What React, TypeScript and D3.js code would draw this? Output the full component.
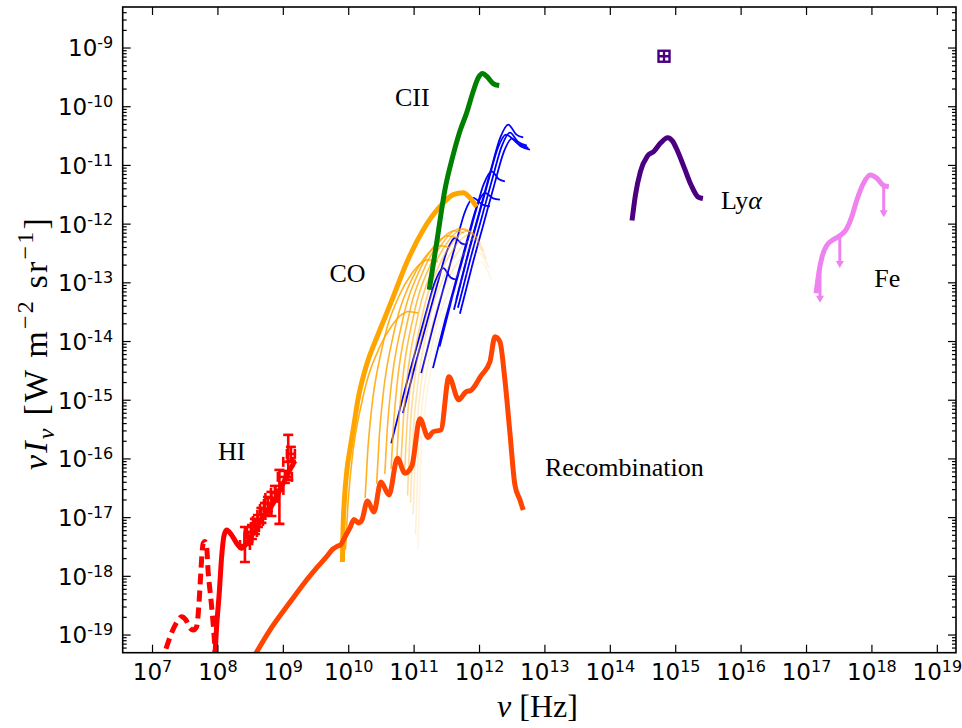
import React, { useEffect } from 'react';
import * as d3 from 'd3';

type P = [number, number]; // [log10 nu (Hz), log10 nuI_nu (W m^-2 sr^-1)]

// ---------- data (log10 values) ----------
const ciiLine: P[] = [
  [11.231, -13.118], [11.344, -12.323], [11.471, -11.413], [11.598, -10.816], [11.700, -10.419],
  [11.803, -10.105], [11.904, -9.737], [11.981, -9.508], [12.047, -9.435], [12.118, -9.491],
  [12.209, -9.605], [12.301, -9.639],
];

const coTotal: P[] = [
  [9.904, -17.755], [9.911, -17.295], [9.934, -16.698], [9.973, -16.186], [10.018, -15.846],
  [10.080, -15.420], [10.141, -14.993], [10.217, -14.618], [10.298, -14.311], [10.385, -14.055],
  [10.477, -13.800], [10.681, -13.237], [10.886, -12.658], [11.140, -12.095], [11.394, -11.703],
  [11.598, -11.498], [11.751, -11.464], [11.853, -11.549], [11.956, -11.703],
];

const coLines: P[][] = [
  [[9.950, -17.546], [9.988, -16.778], [10.042, -16.097], [10.210, -14.988], [10.477, -14.085], [10.661, -13.727], [10.814, -13.539], [10.906, -13.488], [11.063, -13.515]],
  [[10.251, -16.664], [10.289, -15.896], [10.343, -15.215], [10.511, -14.106], [10.778, -13.203], [10.962, -12.845], [11.115, -12.657], [11.207, -12.606], [11.364, -12.640]],
  [[10.427, -16.425], [10.465, -15.657], [10.519, -14.976], [10.687, -13.867], [10.954, -12.964], [11.138, -12.606], [11.291, -12.418], [11.383, -12.367], [11.540, -12.401]],
  [[10.552, -16.255], [10.590, -15.487], [10.644, -14.806], [10.812, -13.697], [11.079, -12.794], [11.263, -12.436], [11.416, -12.248], [11.508, -12.197], [11.665, -12.231]],
  [[10.648, -16.170], [10.686, -15.402], [10.740, -14.721], [10.908, -13.612], [11.175, -12.709], [11.359, -12.351], [11.512, -12.163], [11.604, -12.112], [11.761, -12.146]],
  [[10.728, -16.136], [10.766, -15.368], [10.820, -14.687], [10.988, -13.578], [11.255, -12.675], [11.439, -12.317], [11.592, -12.129], [11.684, -12.078], [11.841, -12.129]],
  [[10.795, -16.136], [10.833, -15.368], [10.887, -14.687], [11.055, -13.578], [11.322, -12.675], [11.506, -12.317], [11.659, -12.129], [11.751, -12.078], [11.908, -12.163]],
  [[10.853, -16.270], [10.891, -15.402], [10.945, -14.721], [11.113, -13.612], [11.380, -12.709], [11.564, -12.351], [11.717, -12.163], [11.809, -12.112], [11.966, -12.231]],
  [[10.900, -16.623], [10.942, -15.453], [10.996, -14.772], [11.164, -13.663], [11.431, -12.760], [11.615, -12.402], [11.768, -12.214], [11.860, -12.163], [12.017, -12.333]],
  [[10.945, -16.748], [10.988, -15.538], [11.042, -14.857], [11.210, -13.748], [11.477, -12.845], [11.661, -12.487], [11.814, -12.299], [11.906, -12.248], [12.063, -12.453]],
  [[10.985, -16.950], [11.029, -15.640], [11.083, -14.959], [11.251, -13.850], [11.518, -12.947], [11.702, -12.589], [11.855, -12.401], [11.947, -12.350], [12.104, -12.589]],
  [[11.022, -17.287], [11.067, -15.777], [11.121, -15.096], [11.289, -13.987], [11.556, -13.084], [11.740, -12.726], [11.893, -12.538], [11.985, -12.487], [12.142, -12.743]],
  [[11.057, -17.541], [11.102, -15.931], [11.156, -15.250], [11.324, -14.141], [11.591, -13.238], [11.775, -12.880], [11.928, -12.692], [12.020, -12.641], [12.177, -12.947]],
];

const fineStructureLines: P[][] = [
  [[10.650, -15.732], [10.833, -14.930], [11.017, -14.180], [11.185, -13.498], [11.323, -12.970], [11.445, -12.748], [11.558, -12.908], [11.650, -12.947]],
  [[10.829, -15.220], [11.012, -14.418], [11.196, -13.668], [11.364, -12.986], [11.502, -12.458], [11.624, -12.236], [11.722, -12.327], [11.803, -12.350]],
  [[11.109, -14.538], [11.292, -13.736], [11.476, -12.986], [11.644, -12.304], [11.782, -11.776], [11.904, -11.554], [12.044, -11.668], [12.159, -11.697]],
  [[11.288, -14.453], [11.471, -13.651], [11.655, -12.901], [11.823, -12.219], [11.961, -11.691], [12.083, -11.469], [12.209, -11.561], [12.312, -11.583]],
  [[11.390, -14.085], [11.573, -13.283], [11.757, -12.533], [11.925, -11.851], [12.063, -11.323], [12.185, -11.101], [12.297, -11.237], [12.388, -11.271]],
  [[11.644, -13.288], [11.827, -12.486], [12.011, -11.736], [12.179, -11.054], [12.317, -10.526], [12.439, -10.304], [12.564, -10.475], [12.668, -10.521]],
  [[11.609, -13.459], [11.792, -12.657], [11.976, -11.907], [12.144, -11.225], [12.282, -10.697], [12.404, -10.475], [12.587, -10.628], [12.745, -10.702]],
  [[11.700, -13.527], [11.883, -12.725], [12.067, -11.975], [12.235, -11.293], [12.373, -10.765], [12.495, -10.543], [12.633, -10.679], [12.771, -10.731]],
  [[11.670, -13.425], [11.853, -12.623], [12.037, -11.873], [12.205, -11.191], [12.343, -10.663], [12.465, -10.441], [12.587, -10.594], [12.725, -10.662]],
];

const recombination: P[] = [
  [8.489, -19.495], [8.592, -19.290], [8.795, -18.915], [9.050, -18.518], [9.203, -18.289],
  [9.356, -18.062], [9.509, -17.858], [9.662, -17.665], [9.758, -17.534], [9.815, -17.494],
  [9.881, -17.457], [9.942, -17.329], [10.018, -17.176], [10.080, -17.031], [10.156, -17.090],
  [10.202, -17.039], [10.286, -16.715], [10.385, -16.903], [10.492, -16.391], [10.615, -16.613],
  [10.745, -15.987], [10.859, -16.243], [10.966, -16.118], [11.088, -15.317], [11.216, -15.633],
  [11.287, -15.539], [11.410, -15.505], [11.532, -14.601], [11.682, -14.993], [11.792, -14.857],
  [11.869, -14.831], [12.022, -14.584], [12.159, -14.345], [12.236, -13.918], [12.312, -14.004],
  [12.388, -14.652], [12.465, -15.556], [12.541, -16.442], [12.618, -16.698], [12.668, -16.869],
];

const hiModel: P[] = [
  [7.946, -19.512], [7.980, -18.859], [8.020, -18.289], [8.057, -17.665], [8.092, -17.312],
  [8.133, -17.209], [8.209, -17.295], [8.286, -17.436], [8.362, -17.522], [8.439, -17.436],
  [8.540, -17.266], [8.693, -16.983], [8.846, -16.754], [8.998, -16.413], [9.101, -16.187],
  [9.177, -16.033],
];

const hiDashed: P[] = [
  [7.128, -19.512], [7.216, -19.200], [7.297, -18.949], [7.393, -18.744], [7.445, -18.688],
  [7.511, -18.744], [7.572, -18.881], [7.622, -18.915], [7.674, -18.859], [7.709, -18.488],
  [7.732, -18.062], [7.755, -17.636], [7.775, -17.436], [7.801, -17.406], [7.827, -17.494],
  [7.852, -17.948], [7.878, -18.233], [7.904, -18.518], [7.939, -18.971], [7.969, -19.512],
];

const hiLogNu = [8.413, 8.466, 8.520, 8.566, 8.612, 8.665, 8.719, 8.765, 8.818, 8.872, 8.940, 9.024, 9.075, 9.116];
const hiLogI = [-17.465, -17.346, -17.244, -17.159, -17.056, -16.954, -16.852, -16.767, -16.664, -16.579, -16.528, -16.306, -16.050, -15.914];
const hiNuErr = [0.076, 0.061, 0.076, 0.061, 0.076, 0.061, 0.076, 0.061, 0.092, 0.061, 0.061, 0.107, 0.076, 0.061];
const hiIHigh = [-17.159, -17.244, -17.125, -17.022, -16.954, -16.835, -16.750, -16.648, -16.562, -16.460, -16.187, -16.204, -15.590, -15.795];
const hiILow = [-17.755, -17.448, -17.363, -17.278, -17.159, -17.090, -16.954, -16.886, -16.971, -16.698, -17.107, -16.408, -16.357, -16.033];

const lyaLine: P[] = [
  [14.332, -11.939], [14.384, -11.506], [14.460, -11.104], [14.564, -10.845], [14.668, -10.758],
  [14.771, -10.615], [14.875, -10.528], [14.951, -10.586], [15.029, -10.758], [15.133, -11.046],
  [15.235, -11.334], [15.339, -11.535], [15.416, -11.564],
];
const lyaPoint: P = [14.821, -9.140];

const feLine: P[] = [
  [17.147, -13.177], [17.188, -12.831], [17.240, -12.545], [17.312, -12.359], [17.405, -12.267],
  [17.509, -12.199], [17.612, -12.083], [17.690, -11.881], [17.768, -11.593], [17.870, -11.305],
  [17.974, -11.162], [18.077, -11.218], [18.170, -11.334], [18.258, -11.363],
];
const feLimNu = [17.206, 17.509, 18.180];
const feLimTop = [-12.732, -12.199, -11.334];
const feLimTip = [-13.339, -12.746, -11.881];

const xTickExps = [7, 8, 9, 10, 11, 12, 13, 14, 15, 16, 17, 18, 19];
const yTickExps = [-19, -18, -17, -16, -15, -14, -13, -12, -11, -10, -9];

const annotations: { text: string; at: P }[] = [
  { text: 'CII', at: [10.707, -9.995] },
  { text: 'CO', at: [9.705, -12.993] },
  { text: 'HI', at: [8.0, -16.016] },
  { text: 'Recombination', at: [13.0, -16.285] },
  { text: 'Lyα', at: [15.691, -11.74] },
  { text: 'Fe', at: [18.035, -13.063] },
];

// ---------- styles ----------
const coOpacity = [0.9, 0.88, 0.85, 0.82, 0.78, 0.72, 0.62, 0.5, 0.4, 0.3, 0.22, 0.16, 0.11];
const W = 962, H = 728;
const PL = 122.7, PR = 956, PT = 7, PB = 652.7;
const SANS = 'DejaVu Sans, sans-serif';
const SERIF = 'Liberation Serif, Times New Roman, serif';

export default function App() {
  useEffect(() => { document.body.style.margin = '0'; }, []);

  const x = d3.scaleLog().domain([3.5e6, 1.93e19]).range([PL, PR]);
  const y = d3.scaleLog().domain([5e-20, 5e-9]).range([PB, PT]);
  const X = (l: number) => x(Math.pow(10, l));
  const Y = (l: number) => y(Math.pow(10, l));
  const line = d3.line<P>().x(d => X(d[0])).y(d => Y(d[1])).curve(d3.curveMonotoneX);

  const minorY: number[] = [];
  for (let e = -20; e <= -9; e++) {
    for (let m = 2; m <= 9; m++) {
      const v = m * Math.pow(10, e);
      if (v > 5e-20 && v < 5e-9) minorY.push(v);
    }
  }

  const thick = { fill: 'none', strokeWidth: 5, strokeLinejoin: 'round' as const };

  return (
    <svg width={W} height={H} style={{ position: 'absolute', left: 0, top: 0, display: 'block', background: '#fff' }}
      xmlns="http://www.w3.org/2000/svg">
      <defs>
        <clipPath id="plot"><rect x={PL} y={PT} width={PR - PL} height={PB - PT} /></clipPath>
      </defs>
      <rect x={0} y={0} width={W} height={H} fill="#fff" />
      <g clipPath="url(#plot)">
        {fineStructureLines.map((d, i) => (
          <path key={'b' + i} d={line(d) || ''} fill="none" stroke="#0000ff" strokeWidth={1.8} />
        ))}
        {coLines.map((d, i) => (
          <path key={'c' + i} d={line(d) || ''} fill="none" stroke="#ffa500" strokeWidth={1.6} strokeOpacity={coOpacity[i]} />
        ))}
        <path d={line(coTotal) || ''} {...thick} stroke="#ffa500" />
        <path d={line(ciiLine) || ''} {...thick} stroke="#008000" />
        <path d={line(recombination) || ''} {...thick} stroke="#ff4500" />
        <path d={line(hiDashed) || ''} {...thick} stroke="#ff0000" strokeDasharray="11,6" />
        <path d={line(hiModel) || ''} {...thick} stroke="#ff0000" />
        {hiLogNu.map((nu, i) => {
          const cx = X(nu), cy = Y(hiLogI[i]);
          const x0 = X(nu - hiNuErr[i]), x1 = X(nu + hiNuErr[i]);
          const y0 = Y(hiIHigh[i]), y1 = Y(hiILow[i]);
          return (
            <g key={'h' + i} stroke="#ff0000" strokeWidth={2.6}>
              <line x1={cx} x2={cx} y1={y0} y2={y1} />
              <line x1={x0} x2={x1} y1={cy} y2={cy} />
              <line x1={cx - 5} x2={cx + 5} y1={y0} y2={y0} />
              <line x1={cx - 5} x2={cx + 5} y1={y1} y2={y1} />
              <line x1={x0} x2={x0} y1={cy - 5} y2={cy + 5} />
              <line x1={x1} x2={x1} y1={cy - 5} y2={cy + 5} />
            </g>
          );
        })}
        <path d={line(lyaLine) || ''} {...thick} stroke="#4b0082" />
        <g stroke="#4b0082" strokeWidth={2.4} fill="#fff">
          <rect x={X(lyaPoint[0]) - 5.5} y={Y(lyaPoint[1]) - 5.5} width={11} height={11} />
          <line x1={X(lyaPoint[0])} x2={X(lyaPoint[0])} y1={Y(lyaPoint[1]) - 5.5} y2={Y(lyaPoint[1]) + 5.5} />
          <line x1={X(lyaPoint[0]) - 5.5} x2={X(lyaPoint[0]) + 5.5} y1={Y(lyaPoint[1])} y2={Y(lyaPoint[1])} />
        </g>
        <path d={line(feLine) || ''} {...thick} stroke="#ee82ee" />
        {feLimNu.map((nu, i) => {
          const cx = X(nu), t = Y(feLimTop[i]), b = Y(feLimTip[i]);
          return (
            <g key={'f' + i}>
              <line x1={cx} x2={cx} y1={t} y2={b - 5} stroke="#ee82ee" strokeWidth={3} />
              <path d={`M${cx - 4},${b - 7}L${cx + 4},${b - 7}L${cx},${b}Z`} fill="#ee82ee" />
            </g>
          );
        })}
      </g>

      {/* frame & ticks */}
      <rect x={PL} y={PT} width={PR - PL} height={PB - PT} fill="none" stroke="#000" strokeWidth={1.6} />
      <g stroke="#000" strokeWidth={1.2}>
        {xTickExps.map(e => {
          const px = x(Math.pow(10, e));
          return (
            <g key={'xt' + e}>
              <line x1={px} x2={px} y1={PB} y2={PB - 8} />
              <line x1={px} x2={px} y1={PT} y2={PT + 8} />
            </g>
          );
        })}
        {yTickExps.map(e => {
          const py = y(Math.pow(10, e));
          return (
            <g key={'yt' + e}>
              <line x1={PL} x2={PL + 8} y1={py} y2={py} />
              <line x1={PR} x2={PR - 8} y1={py} y2={py} />
            </g>
          );
        })}
        {minorY.map((v, i) => {
          const py = y(v);
          return (
            <g key={'ym' + i}>
              <line x1={PL} x2={PL + 4} y1={py} y2={py} />
              <line x1={PR} x2={PR - 4} y1={py} y2={py} />
            </g>
          );
        })}
      </g>

      {/* tick labels */}
      <g fontFamily={SANS} fill="#000">
        {xTickExps.map(e => (
          <text key={'xl' + e} x={x(Math.pow(10, e))} y={680} fontSize={23} textAnchor="middle">
            10<tspan fontSize={16} dy={-8}>{String(e)}</tspan>
          </text>
        ))}
        {yTickExps.map(e => (
          <text key={'yl' + e} x={PL - 9.4} y={y(Math.pow(10, e)) + 8.4} fontSize={23} textAnchor="end">
            10<tspan fontSize={16} dy={-8}>{String(e)}</tspan>
          </text>
        ))}
      </g>

      {/* axis labels */}
      <text x={537.5} y={717} fontFamily={SERIF} fontSize={32} textAnchor="middle">
        <tspan fontStyle="italic">ν</tspan> [Hz]
      </text>
      <text transform="translate(47,343) rotate(-90)" fontFamily={SERIF} fontSize={34} textAnchor="middle" letterSpacing={2.2}>
        <tspan fontStyle="italic">νI</tspan>
        <tspan fontStyle="italic" fontSize={24} dy={7}>ν</tspan>
        <tspan dy={-7}>{' [W m'}</tspan>
        <tspan fontSize={24} dy={-14}>−2</tspan>
        <tspan dy={14}>{' sr'}</tspan>
        <tspan fontSize={24} dy={-14}>−1</tspan>
        <tspan dy={14}>]</tspan>
      </text>

      {/* annotations */}
      <g fontFamily={SERIF} fontSize={26} fill="#000">
        {annotations.map(a => (
          <text key={a.text} x={X(a.at[0])} y={Y(a.at[1])}>
            {a.text === 'Lyα' ? (<>Ly<tspan fontStyle="italic">α</tspan></>) : a.text}
          </text>
        ))}
      </g>
    </svg>
  );
}
